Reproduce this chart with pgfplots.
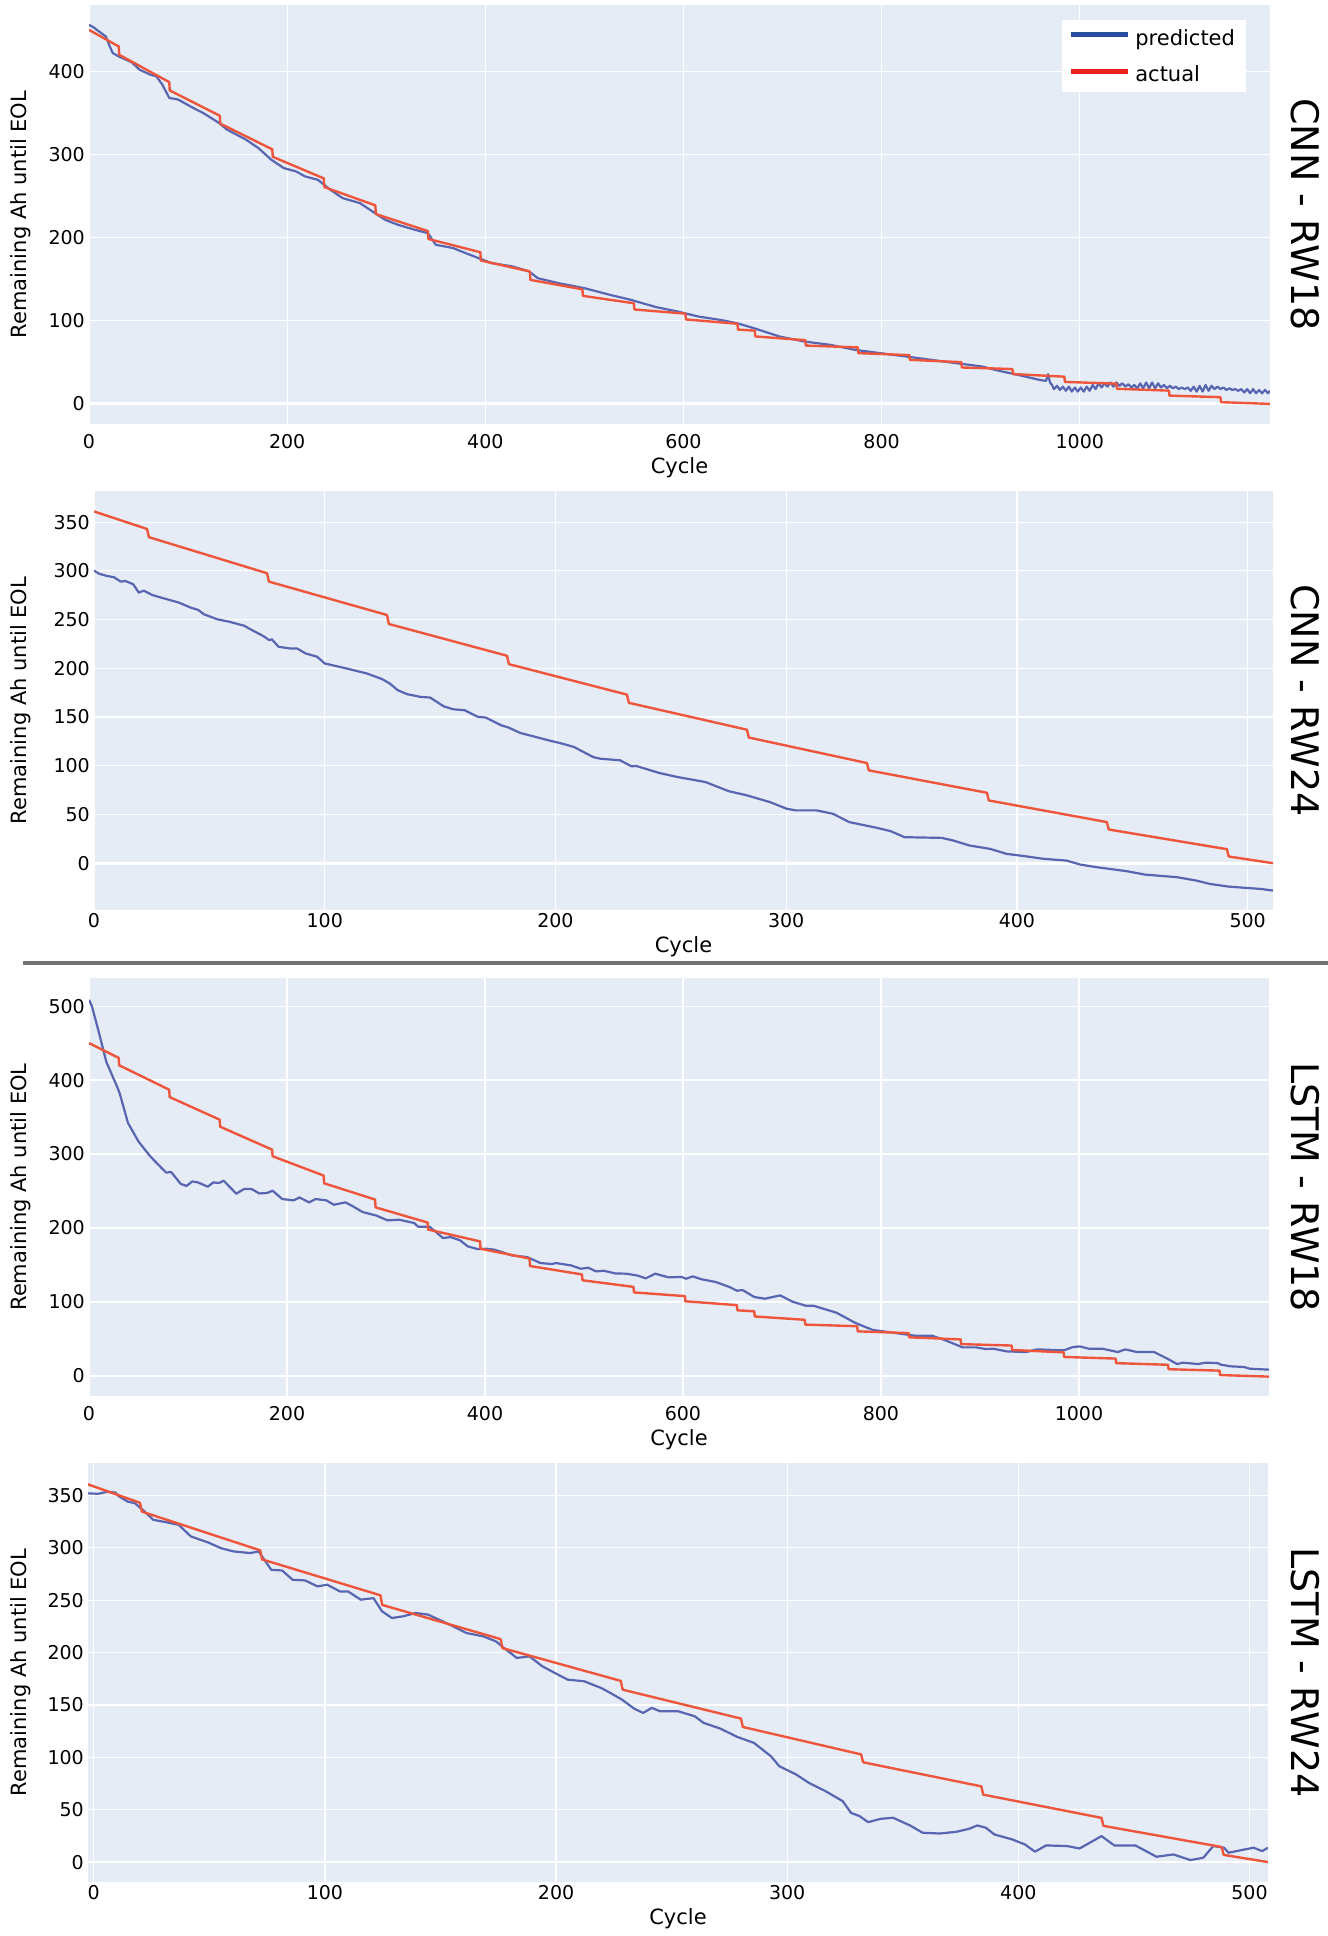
\documentclass[border=0pt]{standalone}
\usepackage{fontspec}
\setmainfont{DejaVu Sans}
\usepackage{pgfplots}
\pgfplotsset{compat=1.18}
\definecolor{bgc}{RGB}{229,236,246}
\definecolor{predc}{RGB}{88,102,178}
\definecolor{actc}{RGB}{239,85,59}
\definecolor{legpred}{RGB}{42,78,159}
\definecolor{legact}{RGB}{232,33,31}
\pgfplotsset{
  panel/.style={
    scale only axis,
    axis background/.style={fill=bgc},
    axis line style={draw=none},
    major tick length=0pt,
    tick style={draw=none},
    grid=major,
    major grid style={white, line width=1.2pt},
    /pgf/number format/assume math mode=true,
    /pgf/number format/1000 sep={},
    scaled ticks=false,
    ticklabel style={font=\fontsize{19}{22}\selectfont, inner sep=0pt},
    yticklabel style={anchor=east, xshift=-4pt},
    extra y ticks={0},
    extra y tick labels={},
    extra y tick style={major grid style={white, line width=2.6pt}},
  },
  pred/.style={color=predc, line width=2.2pt, line join=round},
  act/.style={color=actc, line width=2.4pt, line join=round},
}
\begin{document}
\begin{tikzpicture}
\path[use as bounding box] (0pt,0pt) rectangle (1328pt,1936pt);

% ---------------- Panel 1: CNN - RW18 ----------------
\begin{axis}[panel, at={(89pt,1931pt)}, anchor=north west,
  width=1181pt, height=419pt,
  xmin=0, xmax=1192, ymin=-25, ymax=480,
  xtick={0,200,...,1000}, ytick={0,100,...,400},
  xticklabel style={anchor=base, yshift=-24.5pt},
  legend cell align=left,
  legend style={at={(0.824,0.964)}, anchor=north west, fill=white, draw=none,
    font=\fontsize{21}{25}\selectfont, inner xsep=6pt, inner ysep=7pt, row sep=15pt,
    nodes={inner xsep=5pt}},
  legend image code/.code={\draw[#1, line width=5pt] (0pt,0.33em) -- (57pt,0.33em);},
]
\addlegendimage{color=legpred}
\addlegendentry{predicted}
\addlegendimage{color=legact}
\addlegendentry{actual}
\addplot[pred, forget plot] coordinates {
(0,456) (4,453.5) (17,442) (21,430) (24,422) (30,418) (43,411) (51,402) (62,396) (68,394)
(74,384) (81,368) (90,366) (105,356) (115,350) (131,338) (139,330) (158,318) (171,307.5)
(184,293.5) (196.6,283.4) (209,279.4) (218,273.4) (231,269.3) (243.6,257.3) (256,247.2)
(273.5,241.2) (286,231.2) (299,221) (312,215) (329,209) (342,205) (350,191) (367.5,187)
(380,181) (393,175) (406,169) (427,165) (444,159) (453,150.7) (474,144.7) (500,138.7)
(525.6,130.7) (547,124.6) (572.6,115.8) (594,110.6) (615,104.5) (637,100.5) (654,96.5)
(671,90.5) (697,80.4) (722,74.4) (748,70.4) (773.5,64.3) (799,60.3) (825,56.3) (850,52.3)
(876,48.2) (901.7,44.2) (916,39.8) (940,33.5) (961,27.7) (966,27) (968,35) (970,25)
(972,22) (974,17) (977,21) (980,16) (983,20) (986,15) (989,20) (992,14) (995,19) (998,14)
(1001,19) (1004,14) (1007,20) (1010,15) (1013,22) (1016,17) (1019,24) (1022,19) (1025,24)
(1028,20) (1031,25) (1034,20) (1037,25) (1040,21) (1043,24) (1046,20) (1049,23) (1052,19)
(1055,22) (1058,18) (1061,24) (1064,18) (1067,25) (1070,18) (1073,25) (1076,18) (1079,24)
(1082,19) (1085,22) (1088,18) (1091,21) (1094,18) (1097,20) (1100,17) (1103,19) (1106,17)
(1109,19) (1112,15) (1115,20) (1118,14) (1121,21) (1124,14) (1127,22) (1130,15) (1133,21)
(1136,17) (1139,20) (1142,17) (1145,19) (1148,16) (1151,18) (1154,16) (1157,17) (1160,15)
(1163,17) (1166,13) (1169,17) (1172,12) (1175,17) (1178,12) (1181,16) (1184,12) (1187,16)
(1190,12) (1192,15)
};
\addplot[act, forget plot] coordinates {
(0,450) (30,430) (30.5,420) (81,387) (81.5,377) (132,346.5) (132.5,337) (185,306) (185.5,297)
(237,271) (237.5,260.5) (289,238.5) (289.5,228) (342,207.5) (342.5,198) (395,182) (395.5,172)
(445,158.8) (445.5,148.7) (498,137.3) (498.5,129.4) (550,120.5) (550.5,113) (602,108)
(602.5,101) (654.5,95.8) (655,88.8) (672,87.5) (672.5,80.5) (723,76) (723.5,69.5) (776,67.3)
(776.5,60.4) (828,58) (828.5,52.3) (880.5,49.5) (881,43.1) (932,41.2) (932.5,35.2) (984.5,32)
(985,25.7) (1037,23.6) (1037.5,17.4) (1090,15.2) (1090.5,9.2) (1142,7.3) (1142.5,1.3)
(1192,-0.8)
};
\end{axis}

% ---------------- Panel 2: CNN - RW24 ----------------
\begin{axis}[panel, at={(94pt,1445pt)}, anchor=north west,
  width=1179pt, height=419pt,
  xmin=0, xmax=511, ymin=-48, ymax=382,
  xtick={0,100,...,500}, ytick={0,50,...,350},
  xticklabel style={anchor=base, yshift=-17.5pt},
]
\addplot[pred] coordinates {
(0,300.3) (2.3,297) (5.3,295) (8.6,293.5) (11.6,289) (13.6,289.6) (17,286.3) (19.4,277.7)
(21.6,279.7) (25.2,275.3) (28.6,272.9) (36.9,267.4) (41.9,262.3) (45.2,259.9) (47.7,255.4)
(53.5,250.3) (58.5,247.9) (65.1,243.7) (68.4,239.3) (73.4,233.1) (75.9,229) (77.1,229.7)
(80,222.1) (85,220.4) (88,220.4) (91.7,215.3) (96.7,211.9) (100,205) (108.3,200.5)
(118.3,194.7) (124.9,188.9) (128.2,184.4) (131.6,177.6) (135.7,173.5) (141.5,170.7)
(145.7,170) (151.5,161.1) (155.6,158) (160.6,157) (166.4,150.2) (169.8,149.5) (176.4,141.6)
(179.7,139.2) (184.7,133.7) (191.4,129.6) (198,125.5) (203,122.7) (208,119.3) (212.1,114.2)
(216.3,109) (219.3,107.3) (228,105.6) (233,99.4) (235,99.8) (245,92.6) (253,88.4) (265,83.3)
(275,74) (283,69.6) (293,62.7) (300.2,55.9) (304.2,54.2) (313.2,54.2) (320.3,50.7)
(327.3,42.2) (339.3,36.3) (345.3,32.9) (351.3,26.7) (367.4,26) (372.4,23.3) (379.4,18.2)
(388.4,14.7) (395.5,9.6) (403.5,7.2) (411.5,4.5) (421.5,2.7) (427.5,-1.4) (434.6,-4.1)
(447.6,-8.2) (455.6,-11.7) (469.6,-14.4) (477.7,-17.8) (483.7,-21.3) (491.7,-24)
(499.7,-25.4) (505.7,-26.4) (511,-28.1)
};
\addplot[act] coordinates {
(0,361) (23,343) (23.8,334.6) (75,297.6) (75.8,289) (127,254.7) (127.8,245.5) (179,212.9)
(179.8,204.3) (231,173) (231.8,164.6) (283,137) (283.8,129) (335,102.8) (335.8,95.3)
(387,72.3) (387.8,64.4) (439,42.2) (439.8,34.6) (491,14.4) (491.8,6.9) (511,0)
};
\end{axis}

% ---------------- Panel 3: LSTM - RW18 ----------------
\begin{axis}[panel, at={(89pt,958pt)}, anchor=north west,
  width=1180pt, height=418pt,
  xmin=0, xmax=1192, ymin=-27, ymax=538,
  xtick={0,200,...,1000}, ytick={0,100,...,500},
  xticklabel style={anchor=base, yshift=-24.5pt},
]
\addplot[pred] coordinates {
(0,508.6) (3,499.5) (9.7,466) (17.4,425) (29,389) (31,382) (39.4,342) (50,317) (61.8,297)
(73.4,281) (78,275) (83,275.7) (92.8,259.5) (98.6,257) (104.4,263) (110,261.7) (120,255.9)
(125.6,261.7) (131.4,260.8) (136,264) (148.8,246.4) (156.5,252.7) (164.3,252.7) (172,246.8)
(179.7,247.3) (185.5,250.5) (195.2,239.2) (206.8,237.4) (212.6,241.4) (222.3,234.7)
(228.9,239.2) (239.7,237.4) (247.4,231.5) (259,234.7) (266.7,229.3) (276.4,221.6) (290,217)
(301.5,210.4) (313,211.3) (328.6,206.8) (332.4,201.8) (344,201.8) (349.8,195.5)
(357.5,186.5) (365.3,187.8) (375,183.3) (382.7,175.2) (392.4,171.6) (402,172) (409.8,170.7)
(427.2,163) (442.6,160.8) (456,152.7) (467.8,151.4) (471.6,152.7) (487,149.5) (496.7,145)
(504.4,146.4) (512.2,141.4) (519.9,142.3) (531.5,138.7) (543,138.3) (554.7,135.6)
(562.4,132) (572,138.3) (585.6,133.3) (598.5,134) (603,131.5) (610,134.7) (618,131)
(633.3,127) (647,120.3) (654.5,115.3) (660.3,116.2) (672,106.8) (682.8,104.5) (698.2,109)
(710.6,100.5) (724.1,95) (731.9,95) (755,85.6) (774.4,71.6) (791.8,62.2) (807.2,59.5)
(826.6,55.9) (834.3,54.5) (851.7,54.5) (865.2,48.2) (882.6,38.7) (896.1,38.7) (905.8,36.5)
(913.5,36.9) (927,33.3) (946.4,32.4) (958,36) (985,34.7) (992.8,38.7) (1000.5,40.1)
(1010.2,36.9) (1023.7,36.9) (1039.2,32.4) (1046.9,36) (1058.5,32.4) (1075.9,32.4)
(1089.4,23.4) (1099.1,16.2) (1104.9,18) (1120.3,16.2) (1128.1,18) (1139.7,17.6)
(1143.5,15.3) (1153.2,13.1) (1166.7,12.2) (1172.5,9.9) (1192,8.6)
};
\addplot[act] coordinates {
(0,450) (30,430) (30.5,420) (81,387) (81.5,377) (132,346.5) (132.5,337) (185,306) (185.5,297)
(237,271) (237.5,260.5) (289,238.5) (289.5,228) (342,207.5) (342.5,198) (395,182) (395.5,172)
(445,158.8) (445.5,148.7) (498,137.3) (498.5,129.4) (550,120.5) (550.5,113) (602,108)
(602.5,101) (654.5,95.8) (655,88.8) (672,87.5) (672.5,80.5) (723,76) (723.5,69.5) (776,67.3)
(776.5,60.4) (828,58) (828.5,52.3) (880.5,49.5) (881,43.1) (932,41.2) (932.5,35.2) (984.5,32)
(985,25.7) (1037,23.6) (1037.5,17.4) (1090,15.2) (1090.5,9.2) (1142,7.3) (1142.5,1.3)
(1192,-0.8)
};
\end{axis}

% ---------------- Panel 4: LSTM - RW24 ----------------
\begin{axis}[panel, at={(88pt,473pt)}, anchor=north west,
  width=1180pt, height=419pt,
  xmin=-2.5, xmax=508, ymin=-19, ymax=381,
  xtick={0,100,...,500}, ytick={0,50,...,350},
  xticklabel style={anchor=base, yshift=-17.5pt},
]
\addplot[pred] coordinates {
(-2.5,352) (2,351.6) (5.7,353.5) (9.3,352.8) (11,349) (14.8,344) (17.7,342.7) (22,334.7)
(25.7,326.8) (31.2,324.5) (36.7,322) (42,310.9) (49.4,305.2) (55,299.7) (60.4,296.6)
(67.7,295) (71.3,296.6) (76.8,279) (81.5,278.4) (86,269.5) (91.4,268.9) (96.8,263.2)
(101,264.8) (106.5,258.4) (110,258.4) (115.5,250.5) (121,252) (124.7,239.4) (129,233)
(133.8,234.6) (139.3,237.8) (144.7,236.2) (154,226.6) (161.2,218.7) (168.5,215.5)
(174,210.7) (177.5,204.4) (183,194.9) (188.5,196.4) (194,187) (199.5,180.5) (205,174.2)
(212.2,172.6) (219.5,166.2) (223,162.1) (228.5,155.1) (234,146.2) (237.7,142.4)
(241.4,147.2) (245,144) (252.8,144) (260,139.2) (263.8,132.9) (271,127.5) (278.4,119.5)
(285.6,113.8) (293,101) (296.6,91.5) (303.9,83.6) (309.4,75.6) (316.6,67.7) (324,58.2)
(327.6,47) (331.3,43.9) (335,38.1) (340.4,41.3) (345.8,42.3) (353.1,35) (358.6,28)
(365.9,27.3) (373.2,28.9) (378.7,31.8) (382.3,35) (386,32.7) (389.6,26.4) (397.4,21.6)
(402.9,16.8) (407.2,9.9) (412,15.9) (421.1,15.3) (426.5,13) (436,24.8) (441.5,15.9)
(450.6,15.9) (459.8,5.1) (467.1,7.3) (474.4,1.9) (480,4.1) (484.3,15.3) (489,13.7)
(490.9,8.9) (496.4,11.4) (501.8,13.7) (505.5,10.5) (508,13.7)
};
\addplot[act] coordinates {
(-3,361) (20,343) (20.8,334.6) (72,297.6) (72.8,289) (124,254.7) (124.8,245.5) (176,212.9)
(176.8,204.3) (228,173) (228.8,164.6) (280,137) (280.8,129) (332,102.8) (332.8,95.3)
(384,72.3) (384.8,64.4) (436,42.2) (436.8,34.6) (488,14.4) (488.8,6.9) (508,0)
};
\end{axis}

% separator
\draw[color=black!55, line width=4pt] (23pt,973pt) -- (1328pt,973pt);

% axis titles
\begin{scope}[every node/.style={font=\fontsize{21}{25}\selectfont}]
\node[rotate=90] at (21pt,1721.5pt) {Remaining Ah until EOL};
\node[rotate=90] at (21pt,1235.5pt) {Remaining Ah until EOL};
\node[rotate=90] at (21pt,749pt) {Remaining Ah until EOL};
\node[rotate=90] at (21pt,263.5pt) {Remaining Ah until EOL};
\node at (679.5pt,1468pt) {Cycle};
\node at (683.5pt,989pt) {Cycle};
\node at (679pt,496pt) {Cycle};
\node at (678pt,17pt) {Cycle};
\end{scope}
\begin{scope}[every node/.style={font=\fontsize{38}{44}\selectfont, rotate=-90}]
\node at (1305pt,1721.5pt) {CNN - RW18};
\node at (1305pt,1235.5pt) {CNN - RW24};
\node at (1305pt,749pt) {LSTM - RW18};
\node at (1305pt,263.5pt) {LSTM - RW24};
\end{scope}
\end{tikzpicture}
\end{document}
